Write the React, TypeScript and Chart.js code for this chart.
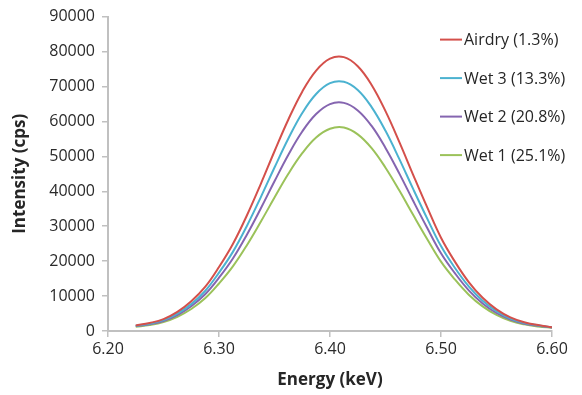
import React, { useEffect, useRef } from "react";
import { Chart, registerables } from "chart.js";

Chart.register(...registerables);

const energy = [6.225, 6.2375, 6.25, 6.2625, 6.275, 6.2875, 6.3, 6.3125, 6.325, 6.3375, 6.35, 6.3625, 6.375, 6.3875, 6.4, 6.4125, 6.425, 6.4375, 6.45, 6.4625, 6.475, 6.4875, 6.5, 6.5125, 6.525, 6.5375, 6.55, 6.5625, 6.575, 6.5875, 6.6];
const airdry = [1600, 2300, 3400, 5460, 8500, 12600, 18300, 24900, 33000, 42000, 51450, 60550, 68520, 74550, 77970, 78400, 75790, 70440, 62930, 54070, 44650, 35450, 26700, 19860, 14000, 9500, 6200, 3900, 2500, 1700, 1100];
const wet3 = [1500, 2100, 3100, 4970, 7700, 11450, 16700, 22650, 30000, 38200, 46800, 55100, 62400, 67850, 70950, 71350, 69000, 64100, 57300, 49200, 40600, 32250, 24300, 18070, 12750, 8650, 5650, 3550, 2300, 1600, 1050];
const wet2 = [1400, 1950, 2850, 4550, 7100, 10500, 15250, 20750, 27500, 35000, 42850, 50450, 57100, 62100, 64950, 65300, 63150, 58700, 52400, 45050, 37200, 29550, 22250, 16550, 11650, 7900, 5150, 3250, 2100, 1500, 1000];
const wet1 = [1200, 1700, 2550, 4060, 6300, 9350, 13600, 18500, 24500, 31200, 38200, 45000, 50900, 55400, 57900, 58250, 56300, 52350, 46750, 40200, 33200, 26350, 19850, 14750, 10400, 7050, 4600, 2900, 1900, 1300, 900];

const seriesLabels = ["Airdry (1.3%)", "Wet 3 (13.3%)", "Wet 2 (20.8%)", "Wet 1 (25.1%)"];
const seriesColors = ["#D4504B", "#4BB2D0", "#8565B0", "#9BC25A"];
const seriesValues = [airdry, wet3, wet2, wet1];

const xTickMin = 6.2;
const xTickMax = 6.6;
const yTickMax = 90000;

const FONT = "'Open Sans', 'DejaVu Sans', sans-serif";

const legendPlugin = {
  id: "insideLegend",
  afterDatasetsDraw(chart: any) {
    const { ctx, chartArea } = chart;
    ctx.save();
    ctx.font = `16px ${FONT}`;
    ctx.textBaseline = "middle";
    ctx.textAlign = "left";
    chart.data.datasets.forEach((ds: any, i: number) => {
      const y = chartArea.top + 23 + i * 38.5;
      const x0 = chartArea.right - 112;
      ctx.strokeStyle = ds.borderColor;
      ctx.lineWidth = 2;
      ctx.beginPath();
      ctx.moveTo(x0, y);
      ctx.lineTo(x0 + 22, y);
      ctx.stroke();
      ctx.fillStyle = "#262626";
      ctx.fillText(ds.label, x0 + 24, y + 1);
    });
    ctx.restore();
  },
};

export default function App() {
  const ref = useRef<HTMLCanvasElement>(null);

  useEffect(() => {
    if (!ref.current) return;
    const datasets = seriesValues.map((vals, i) => ({
      label: seriesLabels[i],
      data: vals.map((v, j) => ({ x: energy[j], y: v })),
      borderColor: seriesColors[i],
      backgroundColor: seriesColors[i],
      borderWidth: 2,
      pointRadius: 0,
      fill: false,
      tension: 0.4,
    }));
    const chart = new Chart(ref.current, {
      type: "line",
      data: { datasets },
      options: {
        responsive: false,
        animation: false,
        devicePixelRatio: 1,
        layout: { padding: { top: 15, right: 30, bottom: 0, left: 0 } },
        plugins: { legend: { display: false }, tooltip: { enabled: false } },
        scales: {
          x: {
            type: "linear",
            min: xTickMin,
            max: xTickMax,
            ticks: {
              stepSize: 0.1,
              callback: (v: any) => Number(v).toFixed(2),
              font: { family: FONT, size: 16 },
              color: "#2a2a2a",
              padding: 3,
              maxRotation: 0,
            },
            grid: { drawOnChartArea: false, drawTicks: true, tickLength: 6, color: "#C0C0C0", lineWidth: 1.5 },
            border: { color: "#C0C0C0", width: 2 },
            title: {
              display: true,
              text: "Energy (keV)",
              font: { family: FONT, size: 17, weight: "bold" },
              color: "#262626",
              padding: { top: 0, bottom: 5 },
            },
            afterFit: (s: any) => {
              s.height = 64;
            },
          },
          y: {
            min: 0,
            max: yTickMax,
            ticks: {
              stepSize: 10000,
              callback: (v: any) => String(Math.round(Number(v))),
              font: { family: FONT, size: 16 },
              color: "#2a2a2a",
              padding: 7,
            },
            grid: { drawOnChartArea: false, drawTicks: true, tickLength: 6, color: "#C0C0C0", lineWidth: 1.5 },
            border: { color: "#C0C0C0", width: 2 },
            title: {
              display: true,
              text: "Intensity (cps)",
              font: { family: FONT, size: 17, weight: "bold" },
              color: "#262626",
              padding: { top: 10, bottom: 0 },
            },
            afterFit: (s: any) => {
              s.width = 108;
            },
          },
        },
      },
      plugins: [legendPlugin],
    });
    return () => chart.destroy();
  }, []);

  return (
    <div style={{ position: "absolute", left: 0, top: 0, width: 582, height: 395, background: "#fff" }}>
      <canvas ref={ref} width={582} height={395} style={{ width: 582, height: 395 }} />
    </div>
  );
}
